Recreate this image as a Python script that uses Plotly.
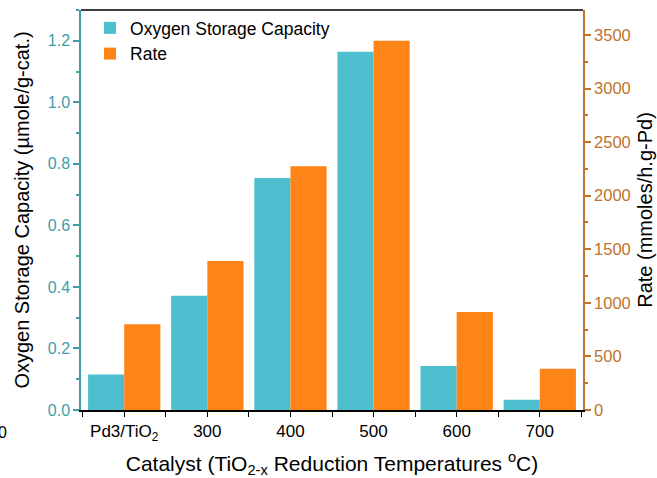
import plotly.graph_objects as go

categories = ["Pd3/TiO<sub>2</sub>", "300", "400", "500", "600", "700"]
osc = [0.115, 0.371, 0.754, 1.164, 0.143, 0.033]
rate = [800, 1390, 2275, 3445, 915, 385]

TEAL = "#4DBFCF"
ORANGE = "#FF8418"
TEAL_AX = "#3E9EA8"
ORANGE_AX = "#C0722D"
FONT = "Liberation Sans, Arial, sans-serif"

xpos = list(range(len(categories)))
w = 0.435

fig = go.Figure()
fig.add_trace(go.Bar(x=xpos, y=osc, name="Oxygen Storage Capacity", marker=dict(color=TEAL, line=dict(width=0)),
                     width=w, offset=-w, yaxis="y"))
fig.add_trace(go.Bar(x=xpos, y=rate, name="Rate", marker=dict(color=ORANGE, line=dict(width=0)),
                     width=w, offset=0, yaxis="y2"))

fig.update_layout(
    width=657, height=478,
    margin=dict(l=81, r=74, t=10, b=68),
    paper_bgcolor="white", plot_bgcolor="white",
    font=dict(family=FONT, size=17, color="black"),
    showlegend=True,
    legend=dict(x=0.018, y=1.0, xanchor="left", yanchor="top", bgcolor="rgba(255,255,255,0)",
                font=dict(size=17.5, color="black"), tracegroupgap=0),
    xaxis=dict(
        automargin=False,
        range=[-0.52, 5.52], tickvals=xpos, ticktext=categories,
        ticks="outside", ticklen=5, tickcolor="black", tickwidth=1,
        minor=dict(tickvals=[i + 0.5 for i in range(-1, 6)], ticks="outside", ticklen=5, tickcolor="black"),
        showline=True, linecolor="black", linewidth=1.5, mirror=False,
        showgrid=False, zeroline=False,
        tickfont=dict(size=17, color="black"),
        title=dict(text="Catalyst (TiO<sub>2-x</sub> Reduction Temperatures <sup>o</sup>C)",
                   font=dict(size=21, color="black"), standoff=19),
    ),
    yaxis=dict(
        automargin=False,
        range=[0, 1.30], tickvals=[0, 0.2, 0.4, 0.6, 0.8, 1.0, 1.2],
        ticktext=["0.0", "0.2", "0.4", "0.6", "0.8", "1.0", "1.2"],
        ticks="outside", ticklen=6, tickcolor=TEAL_AX, tickwidth=1.5,
        minor=dict(dtick=0.1, ticks="outside", ticklen=3, tickcolor=TEAL_AX),
        showline=True, linecolor=TEAL_AX, linewidth=1.5,
        showgrid=False, zeroline=False,
        tickfont=dict(size=16, color=TEAL_AX),
        title=dict(text="Oxygen Storage Capacity (µmole/g-cat.)", font=dict(size=20, color="black"), standoff=13),
    ),
    yaxis2=dict(
        automargin=False,
        overlaying="y", side="right", range=[0, 3733],
        tickvals=[0, 500, 1000, 1500, 2000, 2500, 3000, 3500],
        ticks="outside", ticklen=6, tickcolor=ORANGE_AX, tickwidth=1.5,
        minor=dict(dtick=250, ticks="outside", ticklen=3, tickcolor=ORANGE_AX),
        showline=True, linecolor=ORANGE_AX, linewidth=1.5,
        showgrid=False, zeroline=False,
        tickfont=dict(size=16.5, color=ORANGE_AX),
        title=dict(text="Rate (mmoles/h.g-Pd)", font=dict(size=20, color="black"), standoff=8),
    ),
    shapes=[dict(type="line", xref="paper", yref="paper", x0=0, x1=1, y0=1, y1=1,
                 line=dict(color="black", width=1.5))],
    annotations=[dict(text="0", xref="paper", yref="paper", x=-0.157, y=-0.055, showarrow=False,
                      xanchor="center", yanchor="middle", font=dict(size=16, color="black"))],
)

fig.write_html("out.html", config={"displayModeBar": False},
               post_script="document.body.style.margin='0';")
